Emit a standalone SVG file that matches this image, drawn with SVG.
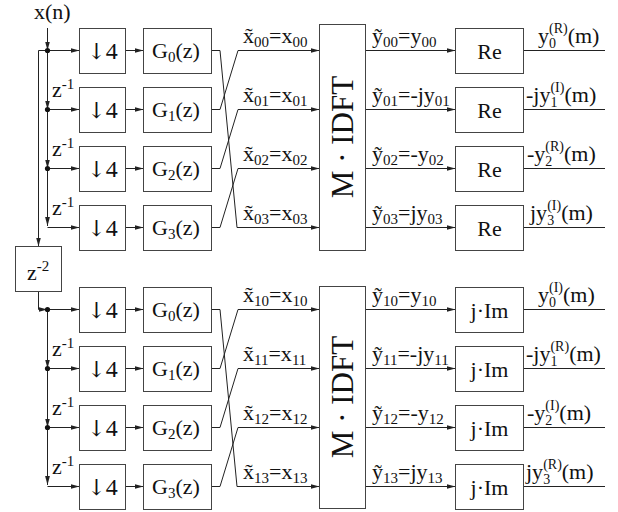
<svg xmlns="http://www.w3.org/2000/svg" width="618" height="512" viewBox="0 0 618 512">
<defs>
<marker id="ah" markerWidth="9" markerHeight="6" refX="9" refY="3" orient="auto" markerUnits="userSpaceOnUse">
<path d="M0,0.6 L9,3 L0,5.4 z" fill="#222"/>
</marker>
<style>
text{font-family:"Liberation Serif","DejaVu Serif",serif;font-size:22px;fill:#111}
.b{fill:#fff;stroke:#444;stroke-width:1}
.c{fill:none;stroke:#222;stroke-width:1}
.a{marker-end:url(#ah)}
.s{font-size:15px}
.u{font-size:14px}
.m{text-anchor:middle}
.big{font-size:31px}
.dn{font-size:24px}
.arr{font-family:"DejaVu Serif","DejaVu Sans",serif;font-size:22px}
</style>
</defs>
<rect width="618" height="512" fill="#fff"/>
<text x="34" y="19">x(n)</text>

<g id="connectors">
<path class="c a" d="M47.5,28 V50.5"/>
<path class="c a" d="M38.5,50.5 H79.5"/>
<path class="c a" d="M38.5,50.5 V246.5"/>
<path class="c a" d="M47.5,50.5 V109.5"/>
<path class="c a" d="M47.5,109.5 V168.5"/>
<path class="c a" d="M47.5,168.5 V226"/>
<path class="c a" d="M47.5,109.5 H79.5"/>
<path class="c a" d="M47.5,168.5 H79.5"/>
<path class="c a" d="M47.5,227.5 H79.5"/>
<path class="c a" d="M38.5,291.5 V309.5 H47.5"/>
<path class="c a" d="M47.5,309.5 H79.5"/>
<path class="c a" d="M47.5,309.5 V368.5"/>
<path class="c a" d="M47.5,368.5 V427.5"/>
<path class="c a" d="M47.5,427.5 V485"/>
<path class="c a" d="M47.5,368.5 H79.5"/>
<path class="c a" d="M47.5,427.5 H79.5"/>
<path class="c a" d="M47.5,486.5 H79.5"/>
<path class="c a" d="M125.5,50.5 H143.5"/>
<path class="c a" d="M125.5,109.5 H143.5"/>
<path class="c a" d="M125.5,168.5 H143.5"/>
<path class="c a" d="M125.5,227.5 H143.5"/>
<path class="c a" d="M125.5,309.5 H143.5"/>
<path class="c a" d="M125.5,368.5 H143.5"/>
<path class="c a" d="M125.5,427.5 H143.5"/>
<path class="c a" d="M125.5,486.5 H143.5"/>
<path class="c a" d="M211.5,50.5 H220 L237,227.5 H319.5"/>
<path class="c a" d="M211.5,109.5 H220 L238,50.5 H319.5"/>
<path class="c a" d="M211.5,168.5 H220 L238,109.5 H319.5"/>
<path class="c a" d="M211.5,227.5 H220 L238,168.5 H319.5"/>
<path class="c a" d="M211.5,309.5 H220 L237,486.5 H319.5"/>
<path class="c a" d="M211.5,368.5 H220 L238,309.5 H319.5"/>
<path class="c a" d="M211.5,427.5 H220 L238,368.5 H319.5"/>
<path class="c a" d="M211.5,486.5 H220 L238,427.5 H319.5"/>
<path class="c a" d="M365.5,50.5 H455.5"/>
<path class="c a" d="M365.5,109.5 H455.5"/>
<path class="c a" d="M365.5,168.5 H455.5"/>
<path class="c a" d="M365.5,227.5 H455.5"/>
<path class="c a" d="M365.5,309.5 H455.5"/>
<path class="c a" d="M365.5,368.5 H455.5"/>
<path class="c a" d="M365.5,427.5 H455.5"/>
<path class="c a" d="M365.5,486.5 H455.5"/>
<path class="c" d="M523.5,50.5 H605"/>
<path class="c" d="M523.5,109.5 H605"/>
<path class="c" d="M523.5,168.5 H605"/>
<path class="c" d="M523.5,227.5 H605"/>
<path class="c" d="M523.5,309.5 H605"/>
<path class="c" d="M523.5,368.5 H605"/>
<path class="c" d="M523.5,427.5 H605"/>
<path class="c" d="M523.5,486.5 H605"/>
</g>

<g id="dots" fill="#111">
<circle cx="47.5" cy="50.5" r="2.6"/>
<circle cx="47.5" cy="109.5" r="2.6"/>
<circle cx="47.5" cy="168.5" r="2.6"/>
<circle cx="47.5" cy="309.5" r="2.6"/>
<circle cx="47.5" cy="368.5" r="2.6"/>
<circle cx="47.5" cy="427.5" r="2.6"/>
</g>

<g id="delays">
<text x="52" y="97">z<tspan class="s" dy="-8">-1</tspan></text>
<text x="52" y="156">z<tspan class="s" dy="-8">-1</tspan></text>
<text x="52" y="215">z<tspan class="s" dy="-8">-1</tspan></text>
<text x="52" y="356">z<tspan class="s" dy="-8">-1</tspan></text>
<text x="52" y="415">z<tspan class="s" dy="-8">-1</tspan></text>
<text x="52" y="474">z<tspan class="s" dy="-8">-1</tspan></text>
</g>

<g id="z2"><rect class="b" x="15.5" y="246.5" width="46" height="45"/><text x="27" y="280">z<tspan class="s" dy="-9">-2</tspan></text></g>

<g id="d0"><rect class="b" x="79.5" y="28.5" width="46" height="45"/><text class="m dn" x="102.5" y="59"><tspan class="arr">↓</tspan>4</text></g>
<g id="d1"><rect class="b" x="79.5" y="87.5" width="46" height="45"/><text class="m dn" x="102.5" y="118"><tspan class="arr">↓</tspan>4</text></g>
<g id="d2"><rect class="b" x="79.5" y="146.5" width="46" height="45"/><text class="m dn" x="102.5" y="177"><tspan class="arr">↓</tspan>4</text></g>
<g id="d3"><rect class="b" x="79.5" y="205.5" width="46" height="45"/><text class="m dn" x="102.5" y="236"><tspan class="arr">↓</tspan>4</text></g>
<g id="d4"><rect class="b" x="79.5" y="287.5" width="46" height="45"/><text class="m dn" x="102.5" y="318"><tspan class="arr">↓</tspan>4</text></g>
<g id="d5"><rect class="b" x="79.5" y="346.5" width="46" height="45"/><text class="m dn" x="102.5" y="377"><tspan class="arr">↓</tspan>4</text></g>
<g id="d6"><rect class="b" x="79.5" y="405.5" width="46" height="45"/><text class="m dn" x="102.5" y="436"><tspan class="arr">↓</tspan>4</text></g>
<g id="d7"><rect class="b" x="79.5" y="464.5" width="46" height="45"/><text class="m dn" x="102.5" y="495"><tspan class="arr">↓</tspan>4</text></g>

<g id="g0"><rect class="b" x="143.5" y="28.5" width="68" height="45"/><text x="152" y="58">G<tspan class="s" dy="4">0</tspan><tspan dy="-4">(z)</tspan></text></g>
<g id="g1"><rect class="b" x="143.5" y="87.5" width="68" height="45"/><text x="152" y="117">G<tspan class="s" dy="4">1</tspan><tspan dy="-4">(z)</tspan></text></g>
<g id="g2"><rect class="b" x="143.5" y="146.5" width="68" height="45"/><text x="152" y="176">G<tspan class="s" dy="4">2</tspan><tspan dy="-4">(z)</tspan></text></g>
<g id="g3"><rect class="b" x="143.5" y="205.5" width="68" height="45"/><text x="152" y="235">G<tspan class="s" dy="4">3</tspan><tspan dy="-4">(z)</tspan></text></g>
<g id="g4"><rect class="b" x="143.5" y="287.5" width="68" height="45"/><text x="152" y="317">G<tspan class="s" dy="4">0</tspan><tspan dy="-4">(z)</tspan></text></g>
<g id="g5"><rect class="b" x="143.5" y="346.5" width="68" height="45"/><text x="152" y="376">G<tspan class="s" dy="4">1</tspan><tspan dy="-4">(z)</tspan></text></g>
<g id="g6"><rect class="b" x="143.5" y="405.5" width="68" height="45"/><text x="152" y="435">G<tspan class="s" dy="4">2</tspan><tspan dy="-4">(z)</tspan></text></g>
<g id="g7"><rect class="b" x="143.5" y="464.5" width="68" height="45"/><text x="152" y="494">G<tspan class="s" dy="4">3</tspan><tspan dy="-4">(z)</tspan></text></g>

<g id="xlabels">
<text x="243" y="43">x̃<tspan class="s" dy="4">00</tspan><tspan dy="-4">=x</tspan><tspan class="s" dy="4">00</tspan></text>
<text x="243" y="102">x̃<tspan class="s" dy="4">01</tspan><tspan dy="-4">=x</tspan><tspan class="s" dy="4">01</tspan></text>
<text x="243" y="161">x̃<tspan class="s" dy="4">02</tspan><tspan dy="-4">=x</tspan><tspan class="s" dy="4">02</tspan></text>
<text x="243" y="220">x̃<tspan class="s" dy="4">03</tspan><tspan dy="-4">=x</tspan><tspan class="s" dy="4">03</tspan></text>
<text x="243" y="302">x̃<tspan class="s" dy="4">10</tspan><tspan dy="-4">=x</tspan><tspan class="s" dy="4">10</tspan></text>
<text x="243" y="361">x̃<tspan class="s" dy="4">11</tspan><tspan dy="-4">=x</tspan><tspan class="s" dy="4">11</tspan></text>
<text x="243" y="420">x̃<tspan class="s" dy="4">12</tspan><tspan dy="-4">=x</tspan><tspan class="s" dy="4">12</tspan></text>
<text x="243" y="479">x̃<tspan class="s" dy="4">13</tspan><tspan dy="-4">=x</tspan><tspan class="s" dy="4">13</tspan></text>
</g>

<g id="idft0"><rect class="b" x="319.5" y="24.5" width="46" height="226"/><text class="m big" transform="translate(352.5,137) rotate(-90)">M · IDFT</text></g>
<g id="idft1"><rect class="b" x="319.5" y="286.5" width="46" height="222"/><text class="m big" transform="translate(352.5,397) rotate(-90)">M · IDFT</text></g>

<g id="ylabels">
<text x="372" y="43">ỹ<tspan class="s" dy="4">00</tspan><tspan dy="-4">=y</tspan><tspan class="s" dy="4">00</tspan></text>
<text x="372" y="102">ỹ<tspan class="s" dy="4">01</tspan><tspan dy="-4">=-jy</tspan><tspan class="s" dy="4">01</tspan></text>
<text x="372" y="161">ỹ<tspan class="s" dy="4">02</tspan><tspan dy="-4">=-y</tspan><tspan class="s" dy="4">02</tspan></text>
<text x="372" y="220">ỹ<tspan class="s" dy="4">03</tspan><tspan dy="-4">=jy</tspan><tspan class="s" dy="4">03</tspan></text>
<text x="372" y="302">ỹ<tspan class="s" dy="4">10</tspan><tspan dy="-4">=y</tspan><tspan class="s" dy="4">10</tspan></text>
<text x="372" y="361">ỹ<tspan class="s" dy="4">11</tspan><tspan dy="-4">=-jy</tspan><tspan class="s" dy="4">11</tspan></text>
<text x="372" y="420">ỹ<tspan class="s" dy="4">12</tspan><tspan dy="-4">=-y</tspan><tspan class="s" dy="4">12</tspan></text>
<text x="372" y="479">ỹ<tspan class="s" dy="4">13</tspan><tspan dy="-4">=jy</tspan><tspan class="s" dy="4">13</tspan></text>
</g>

<g id="re0"><rect class="b" x="455.5" y="28.5" width="68" height="45"/><text class="m" x="489.5" y="59">Re</text></g>
<g id="re1"><rect class="b" x="455.5" y="87.5" width="68" height="45"/><text class="m" x="489.5" y="118">Re</text></g>
<g id="re2"><rect class="b" x="455.5" y="146.5" width="68" height="45"/><text class="m" x="489.5" y="177">Re</text></g>
<g id="re3"><rect class="b" x="455.5" y="205.5" width="68" height="45"/><text class="m" x="489.5" y="236">Re</text></g>
<g id="im0"><rect class="b" x="455.5" y="287.5" width="68" height="45"/><text class="m" x="489.5" y="318">j·Im</text></g>
<g id="im1"><rect class="b" x="455.5" y="346.5" width="68" height="45"/><text class="m" x="489.5" y="377">j·Im</text></g>
<g id="im2"><rect class="b" x="455.5" y="405.5" width="68" height="45"/><text class="m" x="489.5" y="436">j·Im</text></g>
<g id="im3"><rect class="b" x="455.5" y="464.5" width="68" height="45"/><text class="m" x="489.5" y="495">j·Im</text></g>

<g id="outlabels">
<text x="538" y="43">y<tspan class="u" dy="5">0</tspan><tspan class="u" dx="-7" dy="-15">(R)</tspan><tspan dy="10">(m)</tspan></text>
<text x="526" y="102">-jy<tspan class="u" dy="5">1</tspan><tspan class="u" dx="-7" dy="-15">(I)</tspan><tspan dy="10">(m)</tspan></text>
<text x="527" y="161">-y<tspan class="u" dy="5">2</tspan><tspan class="u" dx="-7" dy="-15">(R)</tspan><tspan dy="10">(m)</tspan></text>
<text x="530" y="220">jy<tspan class="u" dy="5">3</tspan><tspan class="u" dx="-7" dy="-15">(I)</tspan><tspan dy="10">(m)</tspan></text>
<text x="538" y="302">y<tspan class="u" dy="5">0</tspan><tspan class="u" dx="-7" dy="-15">(I)</tspan><tspan dy="10">(m)</tspan></text>
<text x="526" y="361">-jy<tspan class="u" dy="5">1</tspan><tspan class="u" dx="-7" dy="-15">(R)</tspan><tspan dy="10">(m)</tspan></text>
<text x="527" y="420">-y<tspan class="u" dy="5">2</tspan><tspan class="u" dx="-7" dy="-15">(I)</tspan><tspan dy="10">(m)</tspan></text>
<text x="526" y="479">jy<tspan class="u" dy="5">3</tspan><tspan class="u" dx="-7" dy="-15">(R)</tspan><tspan dy="10">(m)</tspan></text>
</g>
</svg>
